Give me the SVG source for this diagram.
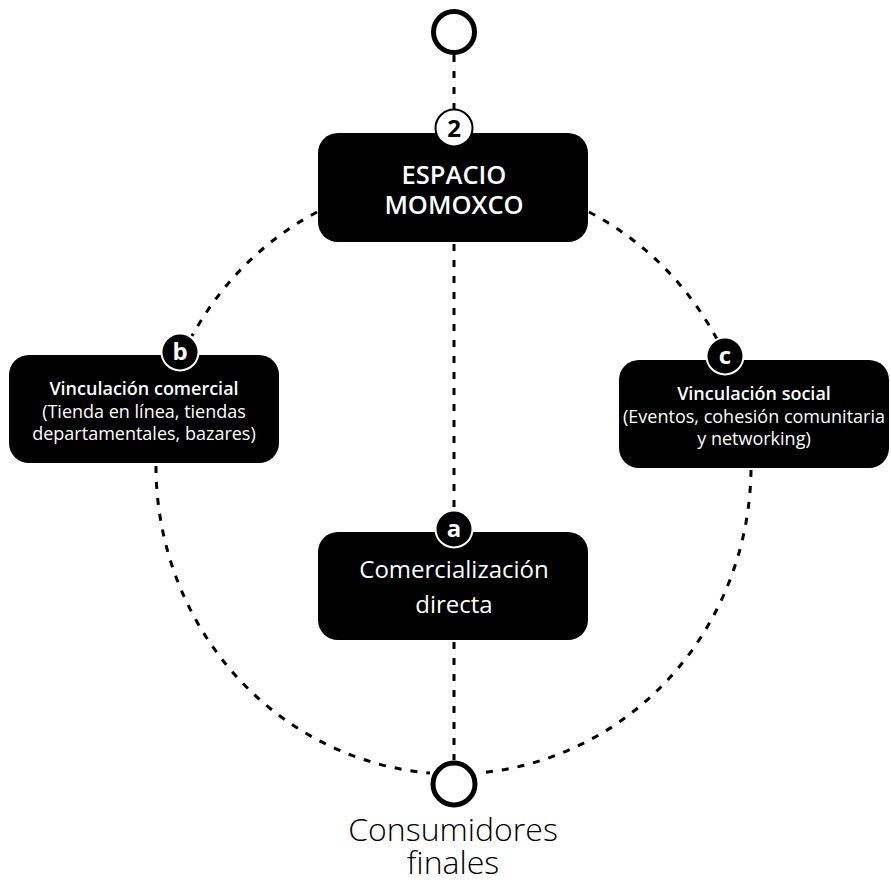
<svg xmlns="http://www.w3.org/2000/svg" width="891" height="884" viewBox="0 0 891 884">
  <style>
    .dash { fill: none; stroke: #000; stroke-width: 3; stroke-dasharray: 7 9; }
    .ring { fill: #fff; stroke: #000; stroke-width: 5; }
    .box { fill: #000; }
    .t { font-family: "Open Sans", "Noto Sans", "Liberation Sans", sans-serif; fill: #fff; text-anchor: middle; }
    .head { font-weight: 600; }
    .mid { font-weight: 500; }
    .badge-dark { fill: #000; stroke: #fff; stroke-width: 2; }
    .badge-light { fill: #fff; stroke: #000; stroke-width: 2; }
    .blabel { font-family: "Open Sans", "Noto Sans", "Liberation Sans", sans-serif; font-weight: 700; font-size: 24px; text-anchor: middle; }
    .caption { font-family: "Open Sans", "Noto Sans", "Liberation Sans", sans-serif; font-weight: 300; font-size: 32px; text-anchor: middle; fill: #000; }
  </style>

  <rect width="891" height="884" fill="#fff"/>

  <!-- dashed connectors -->
  <g id="connectors">
    <line class="dash" x1="454" y1="55" x2="454" y2="110"/>
    <line class="dash" x1="454" y1="244" x2="454" y2="510"/>
    <line class="dash" x1="454" y1="642" x2="454" y2="760"/>
    <path class="dash" d="M317,212 A300,315 0 0 0 192,336"/>
    <path class="dash" d="M589,212 A300,315 0 0 1 718,341"/>
    <path class="dash" d="M156,466 A298,308 0 0 0 430,773"/>
    <path class="dash" d="M751,470 A297,308 0 0 1 478,773"/>
  </g>

  <!-- top terminal -->
  <g id="top-node">
    <circle class="ring" cx="454" cy="32" r="20.5"/>
  </g>

  <!-- central block -->
  <g id="espacio">
    <rect class="box" x="318" y="133" width="270" height="109" rx="20"/>
    <text class="t head" x="454" y="184" font-size="25.5">ESPACIO</text>
    <text class="t head" x="454" y="214" font-size="25.5">MOMOXCO</text>
    <circle class="badge-light" cx="454" cy="128" r="18.5"/>
    <text class="blabel" x="454" y="137" fill="#000">2</text>
  </g>

  <!-- direct sales -->
  <g id="comercializacion">
    <rect class="box" x="318" y="532" width="270" height="108" rx="20"/>
    <text class="t mid" x="454" y="578" font-size="24">Comercialización</text>
    <text class="t mid" x="454" y="613" font-size="24">directa</text>
    <circle class="badge-dark" cx="454" cy="529" r="18.5"/>
    <text class="blabel" x="454" y="537" fill="#fff">a</text>
  </g>

  <!-- commercial links -->
  <g id="vinculacion-comercial">
    <rect class="box" x="9" y="355" width="270" height="108" rx="20"/>
    <text class="t head" x="144" y="395" font-size="18">Vinculación comercial</text>
    <text class="t" x="144" y="418" font-size="18">(Tienda en línea, tiendas</text>
    <text class="t" x="144" y="440" font-size="18">departamentales, bazares)</text>
    <circle class="badge-dark" cx="180" cy="352" r="18.5"/>
    <text class="blabel" x="180" y="360" fill="#fff">b</text>
  </g>

  <!-- social links -->
  <g id="vinculacion-social">
    <rect class="box" x="619" y="360" width="270" height="108" rx="20"/>
    <text class="t head" x="754" y="400" font-size="18">Vinculación social</text>
    <text class="t" x="754" y="423" font-size="18">(Eventos, cohesión comunitaria</text>
    <text class="t" x="754" y="445" font-size="18">y networking)</text>
    <circle class="badge-dark" cx="725" cy="356" r="18.5"/>
    <text class="blabel" x="725" y="364" fill="#fff">c</text>
  </g>

  <!-- end consumers -->
  <g id="consumidores">
    <circle class="ring" cx="454" cy="784" r="21"/>
    <text class="caption" x="453" y="841">Consumidores</text>
    <text class="caption" x="453" y="874">finales</text>
  </g>
</svg>
